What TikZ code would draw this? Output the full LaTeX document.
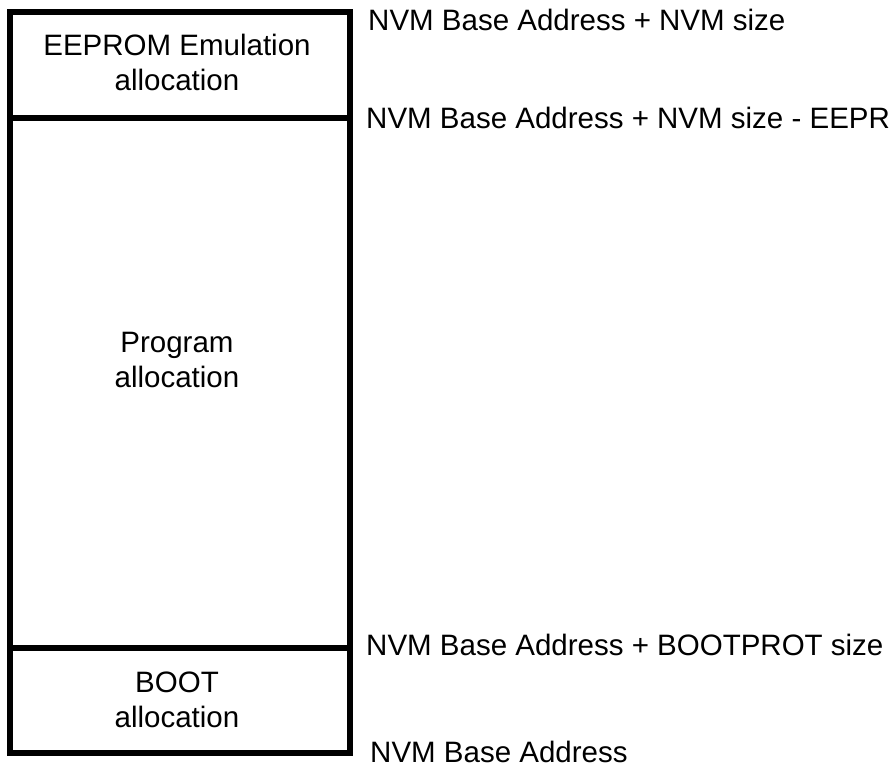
\documentclass[tikz,border=0pt]{standalone}
\usepackage{fontspec}
\setmainfont{Liberation Sans}
\begin{document}
\begin{tikzpicture}[x=1pt,y=-1pt,
  lbl/.style={font=\fontsize{29.5}{35}\selectfont,align=center},
  addr/.style={font=\fontsize{29.5}{35}\selectfont,anchor=west,inner sep=0pt},
  wall/.style={line width=6pt}]
\useasboundingbox (0,0) rectangle (896,767);
\clip (0,0) rectangle (896,767);
\draw[wall] (10,12) rectangle (350,753);
\draw[wall] (10,118) -- (350,118);
\draw[wall] (10,648) -- (350,648);
\node[lbl] (ee) at (177,62) {EEPROM Emulation\\allocation};
\node[lbl] (pr) at (177,360) {Program\\allocation};
\node[lbl] (bo) at (177,700) {BOOT\\allocation};
\node[addr] (a1) at (368,20) {NVM Base Address + NVM size};
\node[addr] (a2) at (366,118) {NVM Base Address + NVM size - EEPR};
\node[addr] (a3) at (366,645) {NVM Base Address + BOOTPROT size};
\node[addr] (a4) at (370,752) {NVM Base Address};
\end{tikzpicture}
\end{document}
